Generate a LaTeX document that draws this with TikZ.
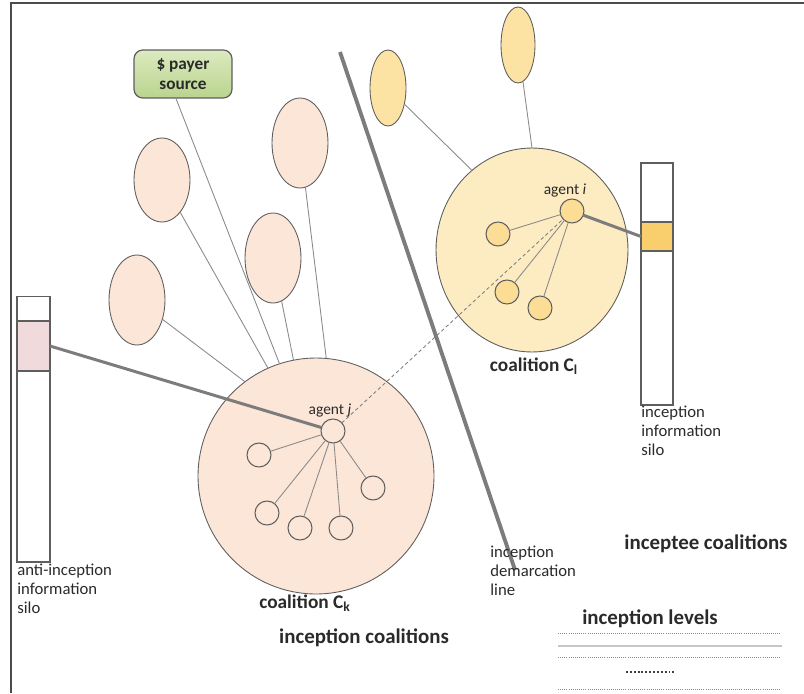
\documentclass[tikz,border=0pt]{standalone}
\usepackage{fontspec}
\setmainfont{Carlito}
\usetikzlibrary{shapes.geometric,backgrounds,calc}

\definecolor{peach}{HTML}{FCE6D8}
\definecolor{cream}{HTML}{FDEBC2}
\definecolor{honey}{HTML}{FCE3A4}
\definecolor{yolk}{HTML}{FBDD96}
\definecolor{gold}{HTML}{F8CF6C}
\definecolor{rose}{HTML}{F0DADB}
\definecolor{leaflight}{HTML}{DCEAC0}
\definecolor{leafdark}{HTML}{B9D48E}
\definecolor{edge}{HTML}{5E5E5E}
\definecolor{wire}{HTML}{8A8A8A}
\definecolor{bar}{HTML}{7C7C7C}
\definecolor{ink}{HTML}{2A2A2A}

\tikzset{
  blob/.style={ellipse, draw=edge, line width=0.5pt, inner sep=0pt, outer sep=0pt},
  member/.style={circle, draw=edge, line width=0.6pt, inner sep=0pt, outer sep=0pt, minimum size=0.48cm},
  thinwire/.style={draw=wire, line width=0.5pt},
  thickwire/.style={draw=bar, line width=1.7pt},
  silobox/.style={rectangle, draw=edge, line width=0.6pt, inner sep=0pt, outer sep=0pt},
  smalltag/.style={font=\fontsize{9.5}{10.8}\selectfont, text=ink, align=left, inner sep=0pt},
  agenttag/.style={font=\fontsize{8.8}{10}\selectfont, text=ink, inner sep=0pt},
  heading/.style={font=\fontsize{11}{12}\selectfont\bfseries, text=ink, inner sep=0pt},
  bigheading/.style={font=\fontsize{11.9}{13}\selectfont\bfseries, text=ink, inner sep=0pt},
  dotrow/.style={draw=gray!90, line width=0.55pt, dash pattern=on 0.45pt off 0.75pt},
}

\begin{document}
\begin{tikzpicture}[x=0.02cm, y=-0.02cm]
\useasboundingbox (0,0) rectangle (804,693);

% frame
\draw[gray!60!black, line width=1.1pt] (11,693) -- (11,3) -- (804,3);

% payer source and sponsor ellipses of the inception side
\node[rectangle, rounded corners=5pt, draw=edge, line width=0.7pt,
      top color=leaflight, bottom color=leafdark,
      minimum width=1.96cm, minimum height=0.96cm, inner sep=0pt,
      font=\fontsize{9.8}{11.5}\selectfont\bfseries, text=ink, align=center]
      (payer) at (183,74) {\$ payer\\source};
\node[blob, fill=peach, minimum width=1.12cm, minimum height=1.68cm] (e1) at (162,180) {};
\node[blob, fill=peach, minimum width=1.12cm, minimum height=1.8cm] (e2) at (300,143) {};
\node[blob, fill=peach, minimum width=1.12cm, minimum height=1.8cm] (e3) at (273,258) {};
\node[blob, fill=peach, minimum width=1.12cm, minimum height=1.8cm] (e4) at (137,300) {};

% coalition C_k
\node[blob, fill=peach, minimum width=4.72cm, minimum height=4.72cm] (ck) at (316,476) {};
\node[member, fill=peach] (aj) at (333,431) {};
\node[agenttag, anchor=base] (ajlab) at (330,414) {agent \textit{j}};
\node[member, fill=peach] (k1) at (259,455) {};
\node[member, fill=peach] (k2) at (267,513) {};
\node[member, fill=peach] (k3) at (300,528) {};
\node[member, fill=peach] (k4) at (341,528) {};
\node[member, fill=peach] (k5) at (373,488) {};
\foreach \m in {k1,k2,k3,k4,k5} \draw[thinwire] (aj) -- (\m);

% links into C_k
\draw[thinwire] (e4) -- (ck.127);
\draw[thinwire] (e1) -- (ck.114);
\draw[thinwire] ([xshift=-0.14cm]payer.south) -- (ck.108);
\draw[thinwire] (e3) -- (ck.101);
\draw[thinwire] (e2) -- (ck.85);

% inceptee side ellipses and coalition C_l
\node[blob, fill=honey, minimum width=0.72cm, minimum height=1.52cm] (y1) at (388,88) {};
\node[blob, fill=honey, minimum width=0.68cm, minimum height=1.52cm] (y2) at (518,45) {};
\node[blob, fill=cream, minimum width=3.84cm, minimum height=4.08cm] (cl) at (532,250) {};
\draw[thinwire] (y1) -- (cl.127);
\draw[thinwire] (y2) -- (cl.90);
\node[member, fill=yolk] (ai) at (572,211) {};
\node[agenttag, anchor=base] (ailab) at (565,194) {agent \textit{i}};
\node[member, fill=yolk] (l1) at (498,234) {};
\node[member, fill=yolk] (l2) at (507,292) {};
\node[member, fill=yolk] (l3) at (540,308) {};
\foreach \m in {l1,l2,l3} \draw[thinwire] (ai) -- (\m);

% anti-inception information silo
\node[silobox, fill=white, minimum width=0.66cm, minimum height=5.32cm] (antisilo) at (33.5,429) {};
\node[silobox, fill=rose, minimum width=0.66cm, minimum height=1cm] (antibox) at (33.5,346) {};
\node[smalltag, anchor=north west] (antilab) at (17,564) {anti-inception\\information\\silo};

% inception information silo
\node[silobox, fill=white, minimum width=0.64cm, minimum height=4.84cm] (insilo) at (657,284) {};
\node[silobox, fill=gold, minimum width=0.64cm, minimum height=0.58cm] (inbox) at (657,236.5) {};
\node[smalltag, anchor=north west] (inlab) at (641,406) {inception\\information\\silo};

% silo links and cross-coalition link
\draw[thickwire] (antibox.east) -- (aj);
\draw[thickwire] (ai) -- (inbox.west);
\draw[draw=gray, line width=0.5pt, dash pattern=on 2pt off 1.5pt] (aj) -- (ai);

% demarcation line
\coordinate (dtop) at (340,52);
\coordinate (dbot) at (515,570);
\draw[draw=bar, line width=2.2pt] (dtop) -- (dbot);
\node[smalltag, anchor=north west] (dlab) at (490,546) {inception\\demarcation\\line};

% headings
\node[heading] (cllab) at (534,366) {coalition C\textsubscript{l}};
\node[heading] (cklab) at (305,603) {coalition C\textsubscript{k}};
\node[bigheading] (inclab) at (364,638) {inception coalitions};
\node[bigheading] (teelab) at (706,544) {inceptee coalitions};
\node[bigheading] (levlab) at (650,619) {inception levels};

% inception level rows
\draw[dotrow] (558,633) -- (780,633);
\draw[draw=gray!45, line width=0.6pt] (558,646) -- (782,646);
\draw[dotrow] (558,657) -- (780,657);
\draw[draw=black!75, line width=0.9pt, dash pattern=on 1.1pt off 1.1pt] (626,672) -- (676,672);
\draw[dotrow] (558,689) -- (780,689);
\end{tikzpicture}
\end{document}
